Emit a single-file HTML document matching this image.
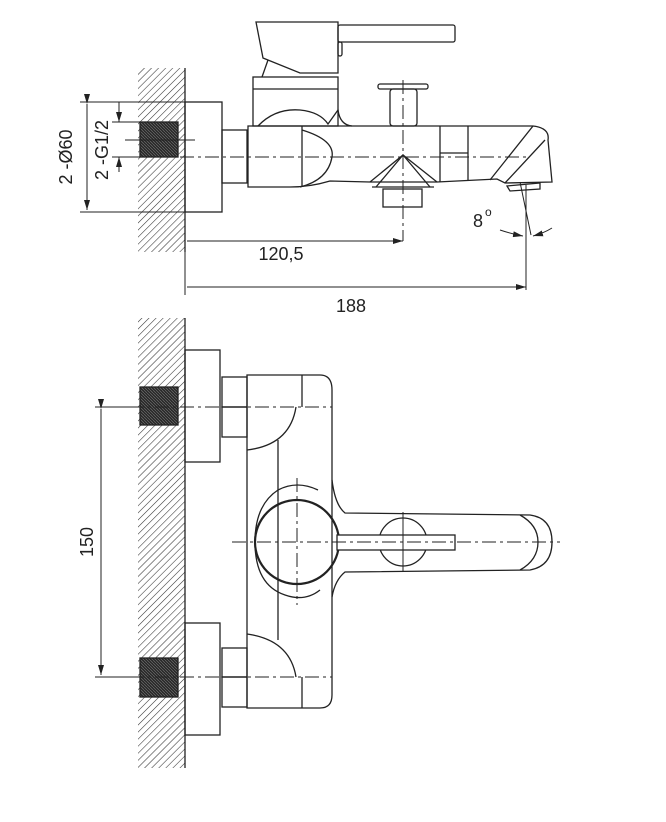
<!DOCTYPE html>
<html><head><meta charset="utf-8"><style>
html,body{margin:0;padding:0;background:#fff;}
svg{display:block}
text{font-family:"Liberation Sans",sans-serif;fill:#222;font-size:18px}
</style></head><body>
<svg width="666" height="822" viewBox="0 0 666 822" xmlns="http://www.w3.org/2000/svg">
<defs>
<pattern id="h" patternUnits="userSpaceOnUse" width="5" height="5" patternTransform="rotate(45)">
<line x1="0" y1="0" x2="0" y2="5" stroke="#333" stroke-width="1.1"/>
</pattern>
<pattern id="t" patternUnits="userSpaceOnUse" width="3" height="3">
<rect width="3" height="3" fill="#2a2a2a"/><line x1="0" y1="0" x2="3" y2="3" stroke="#777" stroke-width="0.6"/>
</pattern>
<marker id="a" markerWidth="10" markerHeight="6" refX="10" refY="3" orient="auto"><path d="M0,0 L10,3 L0,6 z" fill="#222"/></marker>
</defs>
<g fill="none" stroke="#222" stroke-width="1.3">
<!-- TOP VIEW -->
<rect x="138" y="68" width="47" height="184" fill="url(#h)" stroke="none"/>
<line x1="185" y1="68" x2="185" y2="252"/>
<rect x="140" y="122" width="38" height="35" fill="url(#t)"/>
<rect x="185" y="102" width="37" height="110"/>
<rect x="222" y="130" width="25" height="53"/>
<path d="M248,126 L533,126 Q550,128 548,140 L552,182 L505,183 L497,179 L437,182 L370,182 L330,181 Q310,187 290,187 L248,187 Z"/>
<path d="M302,126 L302,187"/>
<path d="M302,130 Q335,140 332,157 Q328,180 300,187"/>
<line x1="440" y1="126" x2="440" y2="182"/>
<line x1="468" y1="126" x2="468" y2="180"/>
<line x1="440" y1="153" x2="468" y2="153"/>
<line x1="533" y1="126" x2="490" y2="180"/>
<line x1="545" y1="140" x2="505" y2="183"/>
<path d="M370,182 L403,155 L437,182"/><path d="M376,187 L403,155 L430,187"/>
<line x1="372" y1="187" x2="434" y2="187"/>
<rect x="383" y="189" width="39" height="18"/>
<path d="M507,186 L540,183 L540,189 L510,191 Z"/>
<rect x="253" y="77" width="85" height="49"/>
<line x1="253" y1="89" x2="338" y2="89"/>
<path d="M258,126 Q275,108 300,110 Q320,112 328,124 L338,110 Q340,125 352,126"/>
<path d="M256,22 L338,22 L338,73 L300,73 L263,58 Z"/>
<path d="M268,60 L262,77"/>
<rect x="338" y="25" width="117" height="17" rx="2"/>
<rect x="338" y="42" width="4" height="14" rx="2"/>
<rect x="378" y="84" width="50" height="5" rx="2"/>
<rect x="390" y="89" width="27" height="37" rx="3"/>
<line x1="130" y1="157" x2="530" y2="157" stroke-dasharray="14 4 3 4" stroke-width="1"/>
<line x1="403" y1="80" x2="403" y2="241" stroke-dasharray="14 4 3 4" stroke-width="1"/>
<line x1="125" y1="140" x2="195" y2="140" stroke-width="1"/>
<line x1="80" y1="102" x2="185" y2="102" stroke-width="1"/>
<line x1="80" y1="212" x2="185" y2="212" stroke-width="1"/>
<line x1="87" y1="104" x2="87" y2="210" marker-start="url(#a)" marker-end="url(#a)" stroke-width="1"/>
<line x1="112" y1="122" x2="140" y2="122" stroke-width="1"/>
<line x1="112" y1="157" x2="140" y2="157" stroke-width="1"/>
<line x1="119" y1="102" x2="119" y2="122" marker-end="url(#a)" stroke-width="1"/>
<line x1="119" y1="172" x2="119" y2="157" marker-end="url(#a)" stroke-width="1"/>
<line x1="185" y1="215" x2="185" y2="295" stroke-width="1"/>
<line x1="187" y1="241" x2="403" y2="241" marker-end="url(#a)" stroke-width="1"/>
<line x1="187" y1="287" x2="526" y2="287" marker-end="url(#a)" stroke-width="1"/>
<line x1="526" y1="185" x2="526" y2="290" stroke-width="1"/>
<line x1="520" y1="182" x2="531" y2="235" stroke-width="1"/>
<path d="M500,230 Q512,234 523,236" marker-end="url(#a)" stroke-width="1"/>
<path d="M552,228 Q544,233 533,236" marker-end="url(#a)" stroke-width="1"/>

<!-- BOTTOM VIEW -->
<rect x="138" y="318" width="47" height="450" fill="url(#h)" stroke="none"/>
<line x1="185" y1="318" x2="185" y2="768"/>
<rect x="140" y="387" width="38" height="38" fill="url(#t)"/>
<rect x="140" y="658" width="38" height="39" fill="url(#t)"/>
<rect x="185" y="350" width="35" height="112"/>
<rect x="185" y="623" width="35" height="112"/>
<rect x="222" y="377" width="25" height="30"/><rect x="222" y="407" width="25" height="30"/>
<rect x="222" y="648" width="25" height="29"/><rect x="222" y="677" width="25" height="30"/>
<path d="M247,375 L320,375 Q332,375 332,390 L332,695 Q332,708 320,708 L247,708 Z"/>
<line x1="302" y1="375" x2="302" y2="407"/>
<line x1="302" y1="677" x2="302" y2="708"/>
<line x1="278" y1="440" x2="278" y2="640"/>
<path d="M247,450 Q290,445 296,407"/>
<path d="M247,634 Q290,640 296,677"/>
<circle cx="297" cy="542" r="42" stroke-width="2.2"/>
<path d="M318,490 Q297,480 278,490 Q255,505 255,542 Q255,585 285,595 Q305,602 320,590"/>
<path d="M332,480 Q335,505 345,513 L530,515 Q552,518 552,542 Q552,566 530,570 L345,572 Q335,580 332,597"/>
<path d="M520,515 Q538,525 538,542 Q538,560 520,570"/>
<circle cx="403" cy="542" r="24"/>
<rect x="337" y="535" width="118" height="15" fill="#fff"/>
<line x1="232" y1="542" x2="560" y2="542" stroke-dasharray="14 4 3 4" stroke-width="1"/>
<line x1="297" y1="478" x2="297" y2="605" stroke-dasharray="14 4 3 4" stroke-width="1"/>
<line x1="403" y1="512" x2="403" y2="572" stroke-width="1"/>
<line x1="130" y1="407" x2="332" y2="407" stroke-dasharray="14 4 3 4" stroke-width="1"/>
<line x1="130" y1="677" x2="332" y2="677" stroke-dasharray="14 4 3 4" stroke-width="1"/>
<line x1="95" y1="407" x2="140" y2="407" stroke-width="1"/>
<line x1="95" y1="677" x2="140" y2="677" stroke-width="1"/>
<line x1="101" y1="409" x2="101" y2="675" marker-start="url(#a)" marker-end="url(#a)" stroke-width="1"/>
</g>
<text x="0" y="0" transform="translate(72,157) rotate(-90)" text-anchor="middle">2 -Ø60</text>
<text x="0" y="0" transform="translate(108,150) rotate(-90)" text-anchor="middle">2 -G1/2</text>
<text x="281" y="260" text-anchor="middle">120,5</text>
<text x="351" y="312" text-anchor="middle">188</text>
<text x="473" y="227">8</text><text x="485" y="216" style="font-size:12px">o</text>
<text x="0" y="0" transform="translate(93,542) rotate(-90)" text-anchor="middle">150</text>
</svg>
</body></html>
